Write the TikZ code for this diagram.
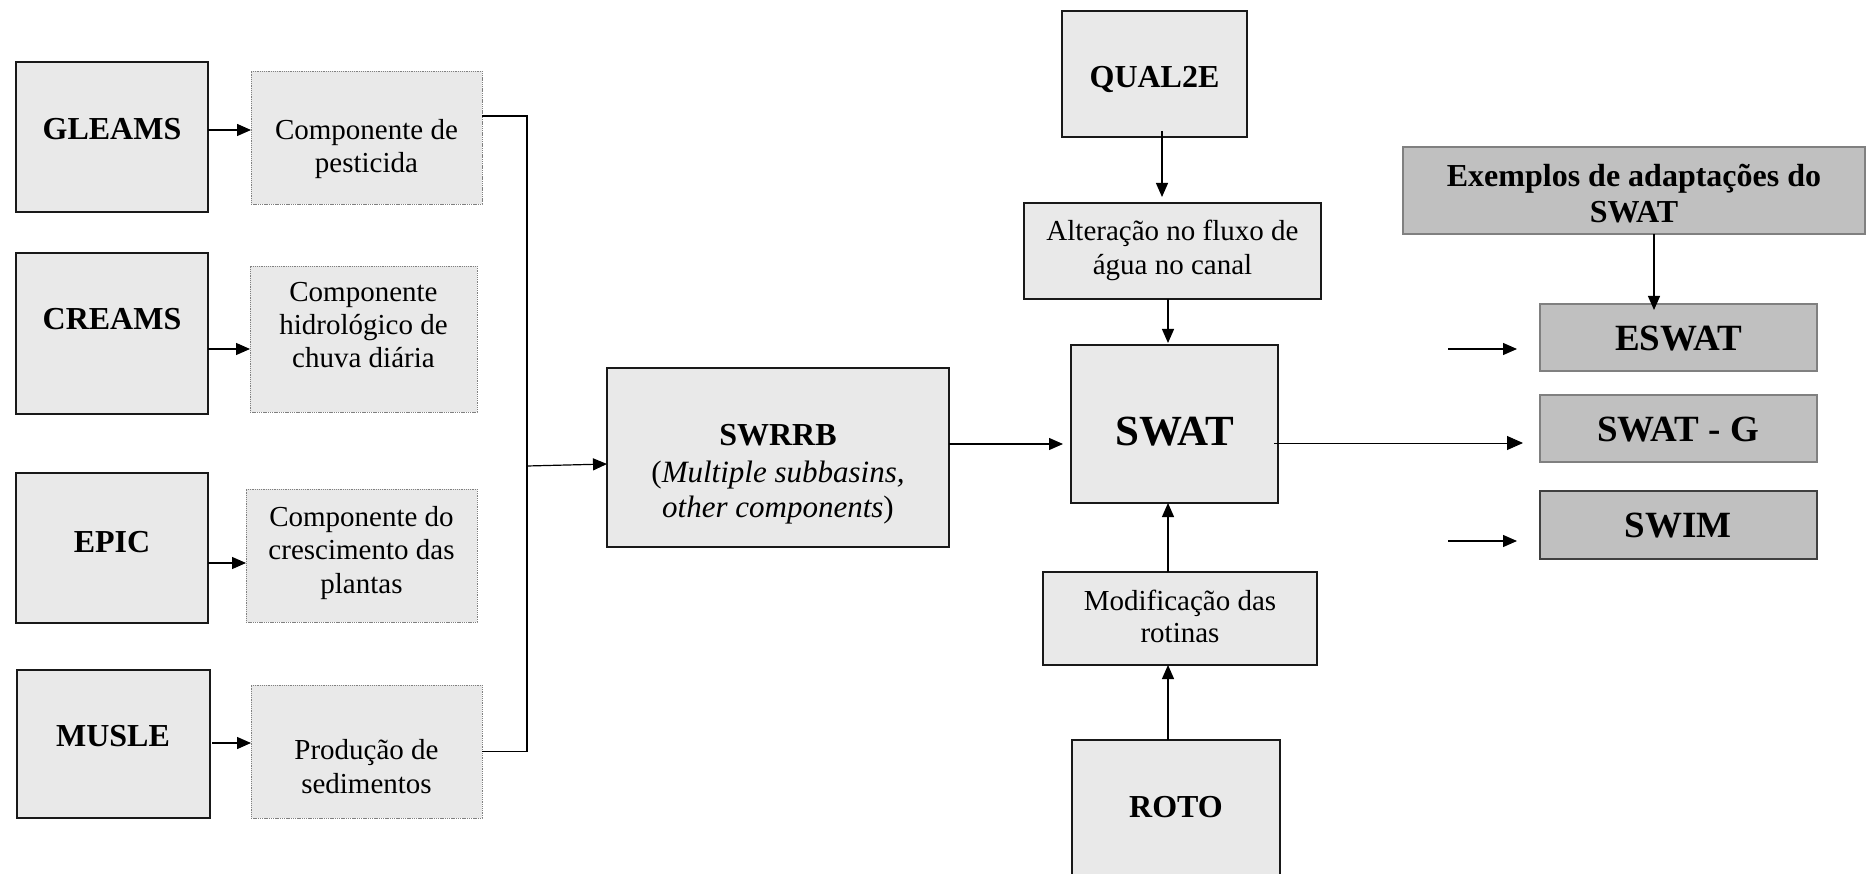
\documentclass[tikz,border=0pt]{standalone}
\usepackage{fontspec}
\setmainfont{Liberation Serif}
\usetikzlibrary{arrows.meta,calc}
\definecolor{boxfill}{HTML}{E9E9E9}
\definecolor{darkfill}{HTML}{C0C0C0}
\definecolor{lborder}{HTML}{808080}
\definecolor{dborder}{HTML}{404040}
\newcommand\mlines[2]{\vtop{\baselineskip=#1\lineskiplimit=-\maxdimen\lineskip=0pt\halign{\hfil##\hfil\cr#2\crcr}}}
\begin{document}
\begin{tikzpicture}[x=1pt,y=-1pt,
 box/.style={draw=black!90, line width=1.3pt, fill=boxfill, inner sep=0, outer sep=0},
 dbox/.style={draw=black!50, line width=0.8pt, dash pattern=on 1.3pt off 0.9pt, fill=boxfill, inner sep=0, outer sep=0},
 gbox/.style={draw=lborder, line width=1.3pt, fill=darkfill, inner sep=0, outer sep=0},
 txt/.style={anchor=base, inner sep=0, font=\fontsize{29}{33}\selectfont},
 btxt/.style={anchor=base, inner sep=0, font=\fontsize{32}{36}\selectfont\bfseries},
 arr/.style={line width=1.2pt, -{Triangle[length=14pt,width=12pt]}},
 link/.style={line width=1.5pt},
]
\useasboundingbox (0,0) rectangle (1874,874);
\clip (0,0) rectangle (1874,874);

% left column
\node[box, minimum width=192pt, minimum height=150pt] (gleams) at (112,137) {};
\node[box, minimum width=192pt, minimum height=161pt] (creams) at (112,333.5) {};
\node[box, minimum width=192pt, minimum height=150pt] (epic) at (112,548) {};
\node[box, minimum width=193pt, minimum height=148pt] (musle) at (113.5,744) {};
\node[btxt] (tgleams) at (112,140) {GLEAMS};
\node[btxt] (tcreams) at (112,330) {CREAMS};
\node[btxt] (tepic) at (112,552) {EPIC};
\node[btxt] (tmusle) at (113,746) {MUSLE};

% component boxes
\node[dbox, minimum width=231pt, minimum height=133pt] (pest) at (366.5,137.5) {};
\node[dbox, minimum width=227pt, minimum height=146pt] (hidro) at (363.5,339) {};
\node[dbox, minimum width=231pt, minimum height=133pt] (cresc) at (361.5,555.5) {};
\node[dbox, minimum width=231pt, minimum height=133pt] (prod) at (366.5,751.5) {};
\node[txt] (tpest) at (366.5,140) {\mlines{33pt}{Componente de\cr pesticida}};
\node[txt] (thidro) at (363.5,302) {\mlines{33pt}{Componente\cr hidrológico de\cr chuva diária}};
\node[txt] (tcresc) at (361.5,526) {\mlines{33.5pt}{Componente do\cr crescimento das\cr plantas}};
\node[txt] (tprod) at (366.5,759) {\mlines{34pt}{Produção de\cr sedimentos}};

% SWRRB
\node[box, line width=1.1pt, minimum width=342pt, minimum height=179pt] (swrrb) at (778,457.5) {};
\node[btxt] (tswrrb) at (778,445) {SWRRB};
\node[txt, font=\fontsize{31}{36}\selectfont] (tswrrb2) at (778,482) {\mlines{35pt}{(\textit{Multiple subbasins,}\cr \textit{other components})}};

% centre column
\node[box, minimum width=185pt, minimum height=126pt] (qual) at (1154.5,74) {};
\node[box, minimum width=297pt, minimum height=96pt] (alter) at (1172.5,251) {};
\node[box, minimum width=207pt, minimum height=158pt] (swat) at (1174.5,424) {};
\node[box, minimum width=274pt, minimum height=93pt] (modif) at (1180,618.5) {};
\node[box, minimum width=208pt, minimum height=160pt] (roto) at (1176,820) {};
\node[btxt] (tqual) at (1154.5,88) {QUAL2E};
\node[txt] (talter) at (1172.5,241) {\mlines{34pt}{Alteração no fluxo de\cr água no canal}};
\node[btxt, font=\fontsize{43}{48}\selectfont\bfseries] (tswat) at (1174.5,445) {SWAT};
\node[txt] (tmodif) at (1180,610) {\mlines{32pt}{Modificação das\cr rotinas}};
\node[btxt] (troto) at (1176,817) {ROTO};

% right column
\node[gbox, minimum width=462pt, minimum height=87pt] (exem) at (1634,190.5) {};
\node[gbox, minimum width=277pt, minimum height=67pt] (eswat) at (1678.5,337.5) {};
\node[gbox, minimum width=277pt, minimum height=67pt] (swatg) at (1678.5,428.5) {};
\node[gbox, draw=dborder, minimum width=277pt, minimum height=68pt] (swim) at (1678.5,525) {};
\node[btxt] (texem) at (1634,187) {\mlines{36pt}{Exemplos de adaptações do\cr SWAT}};
\node[btxt, font=\fontsize{37}{42}\selectfont\bfseries] (teswat) at (1678.5,351) {ESWAT};
\node[btxt, font=\fontsize{37}{42}\selectfont\bfseries] (tswatg) at (1678,441) {SWAT - G};
\node[btxt, font=\fontsize{37}{42}\selectfont\bfseries] (tswim) at (1678,537) {SWIM};

% left arrows
\path ([yshift=7pt]gleams.east) coordinate (a1);
\draw[arr, line width=1.4pt] (a1) -- (a1 -| pest.west);
\path ([yshift=-15.5pt]creams.east) coordinate (a2);
\draw[arr, line width=1.4pt] (a2) -- (a2 -| hidro.west);
\path ([yshift=-15pt]epic.east) coordinate (a3);
\draw[arr, line width=1.4pt] (a3) -- (a3 -| cresc.west);
\path ([xshift=2pt,yshift=1pt]musle.east) coordinate (a4);
\draw[arr, line width=1.4pt] (a4) -- (a4 -| prod.west);

% bracket
\coordinate (br) at (527,116);
\coordinate (jn) at (527,466);
\draw[link] (pest.east |- br) -- (br) |- (prod.east);
\draw[arr] (jn) -- ([yshift=-6.5pt]swrrb.west);

% SWRRB -> SWAT
\path ([yshift=13.5pt]swrrb.east) coordinate (s1);
\draw[arr, shorten >=8pt] (s1) -- (s1 -| swat.west);

% vertical arrows
\path ([xshift=7.5pt,yshift=6pt]qual.south) coordinate (q1);
\draw[arr, shorten >=6pt] (q1) -- (q1 |- alter.north);
\path ([xshift=-4.5pt]alter.south) coordinate (q2);
\draw[arr, shorten >=2pt] (q2) -- (q2 |- swat.north);
\path ([xshift=-12pt]modif.north) coordinate (m1);
\draw[arr] (m1) -- (m1 |- swat.south);
\path ([xshift=-8pt]roto.north) coordinate (r1);
\draw[arr] (r1) -- (r1 |- modif.south);
\path ([xshift=20pt]exem.south) coordinate (x1);
\draw[arr, shorten >=-6pt] (x1) -- (x1 |- eswat.north);

% SWAT -> SWAT-G
\path ([xshift=-4pt,yshift=-19pt]swat.east) coordinate (s2);
\draw[arr, line width=1pt, -{Triangle[length=16pt,width=14pt]}, shorten >=17pt] (s2) -- (s2 -| swatg.west);

% free arrows
\coordinate (e0) at (1448,349);
\draw[arr, shorten >=23pt] (e0) -- (e0 -| eswat.west);
\coordinate (w0) at (1448,541);
\draw[arr, shorten >=23pt] (w0) -- (w0 -| swim.west);
\end{tikzpicture}
\end{document}
